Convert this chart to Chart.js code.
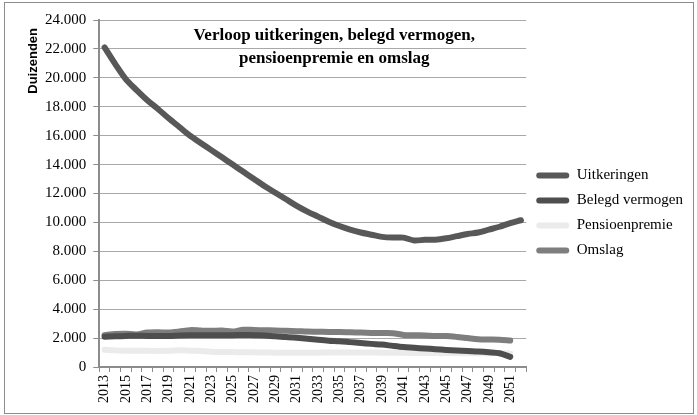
<!DOCTYPE html>
<html>
<head>
<meta charset="utf-8">
<script src="https://cdn.jsdelivr.net/npm/chart.js@4"></script>
<style>
    body { margin: 0; background: #fff; }
    #wrap { position: relative; width: 697px; height: 415px; }
    #rand { position: absolute; left: 4px; top: 2px; width: 688px; height: 410px; border: 1px solid #8c8c8c; pointer-events: none; }
</style>
</head>
<body>
<div id="wrap">
    <canvas id="myChart" width="697" height="415"></canvas>
    <div id="rand"></div>
</div>
<script>
// jaren op de x-as
var jaren = [];
for (var j = 2013; j <= 2052; j++) jaren.push(String(j));

var uitkeringen = [22100, 20950, 19900, 19150, 18450, 17850, 17200, 16600, 16000, 15500,
    15000, 14500, 14000, 13500, 13000, 12500, 12050, 11600, 11150, 10750,
    10400, 10050, 9750, 9500, 9300, 9150, 9000, 8950, 8950, 8750,
    8800, 8800, 8900, 9050, 9200, 9300, 9500, 9700, 9950, 10150];

var belegdVermogen = [2100, 2120, 2150, 2170, 2150, 2150, 2150, 2180, 2200, 2200,
    2200, 2200, 2200, 2220, 2200, 2180, 2120, 2080, 2020, 1950,
    1880, 1820, 1780, 1720, 1660, 1600, 1550, 1460, 1380, 1330,
    1280, 1230, 1180, 1140, 1100, 1070, 1020, 950, 700, null];

var pensioenpremie = [1200, 1150, 1130, 1120, 1120, 1110, 1120, 1150, 1130, 1100,
    1060, 1040, 1030, 1020, 1020, 1000, 990, 980, 980, 990,
    990, 1000, 1000, 1010, 1010, 1000, 990, 990, 980, 970,
    970, 960, 960, 960, 950, 950, 950, 950, 940, null];

var omslag = [2200, 2280, 2300, 2250, 2380, 2400, 2380, 2450, 2550, 2520,
    2500, 2520, 2450, 2580, 2560, 2540, 2530, 2500, 2480, 2450,
    2440, 2420, 2420, 2400, 2380, 2360, 2350, 2340, 2220, 2200,
    2180, 2150, 2140, 2080, 2000, 1920, 1900, 1880, 1830, null];

var titelRegels = ['Verloop uitkeringen, belegd vermogen,', 'pensioenpremie en omslag'];
var asTitel = 'Duizenden';

function metPunt(v) {
    return String(v).replace(/\B(?=(\d{3})+(?!\d))/g, '.');
}

function lijn(label, data, kleur) {
    return {
        label: label,
        data: data,
        borderColor: kleur,
        backgroundColor: kleur,
        borderWidth: 6,
        borderCapStyle: 'round',
        borderJoinStyle: 'round',
        pointRadius: 0,
        tension: 0.3,
        fill: false
    };
}

// titel staat in het plotvlak zelf, zoals in Excel; astitel bovenaan de y-as
var titelPlugin = {
    id: 'titelInPlot',
    afterDatasetsDraw: function (chart) {
        var ctx = chart.ctx;
        var ca = chart.chartArea;
        ctx.save();
        ctx.fillStyle = '#000';
        ctx.font = 'bold 17px "Liberation Serif"';
        ctx.textAlign = 'center';
        ctx.textBaseline = 'middle';
        ctx.fillText(titelRegels[0], ca.left + 235, ca.top + 16);
        ctx.fillText(titelRegels[1], ca.left + 235, ca.top + 39);

        ctx.translate(33, ca.top + 8);
        ctx.rotate(-Math.PI / 2);
        ctx.font = 'bold 13px "Liberation Sans"';
        ctx.textAlign = 'right';
        ctx.fillText(asTitel, 0, 0);
        ctx.restore();
    }
};

var ctx = document.getElementById('myChart').getContext('2d');
var myChart = new Chart(ctx, {
    type: 'line',
    data: {
        labels: jaren,
        datasets: [
            lijn('Uitkeringen', uitkeringen, '#585858'),
            lijn('Belegd vermogen', belegdVermogen, '#4e4e4e'),
            lijn('Pensioenpremie', pensioenpremie, '#ebebeb'),
            lijn('Omslag', omslag, '#7e7e7e')
        ]
    },
    plugins: [titelPlugin],
    options: {
        responsive: false,
        animation: false,
        layout: { padding: { left: 38, top: 20, right: 8, bottom: 9 } },
        plugins: {
            legend: {
                position: 'right',
                align: 'center',
                labels: {
                    color: '#000',
                    font: { family: 'Liberation Serif', size: 15 },
                    boxWidth: 33,
                    boxHeight: 6,
                    padding: 10,
                    useBorderRadius: true,
                    borderRadius: 3,
                    generateLabels: function (chart) {
                        return chart.data.datasets.map(function (ds, i) {
                            return {
                                text: ds.label,
                                fillStyle: ds.borderColor,
                                strokeStyle: ds.borderColor,
                                lineWidth: 0,
                                fontColor: '#000',
                                datasetIndex: i,
                                borderRadius: 3
                            };
                        });
                    }
                }
            },
            tooltip: { enabled: false }
        },
        scales: {
            x: {
                offset: true,
                grid: {
                    offset: true,
                    drawOnChartArea: false,
                    drawTicks: true,
                    tickLength: 5,
                    color: '#8c8c8c'
                },
                border: { color: '#8c8c8c', width: 2 },
                ticks: {
                    autoSkip: false,
                    minRotation: 90,
                    maxRotation: 90,
                    padding: 3,
                    color: '#000',
                    font: { family: 'Liberation Serif', size: 14 },
                    callback: function (value, index) {
                        return index % 2 === 0 ? this.getLabelForValue(value) : '';
                    }
                }
            },
            y: {
                min: 0,
                max: 24000,
                grid: {
                    color: '#a8a8a8',
                    tickLength: 6,
                    tickColor: '#8c8c8c'
                },
                border: { color: '#8c8c8c', width: 2 },
                ticks: {
                    stepSize: 2000,
                    padding: 7,
                    color: '#000',
                    font: { family: 'Liberation Serif', size: 15 },
                    callback: function (v) { return metPunt(v); }
                }
            }
        }
    }
});
</script>
</body>
</html>
